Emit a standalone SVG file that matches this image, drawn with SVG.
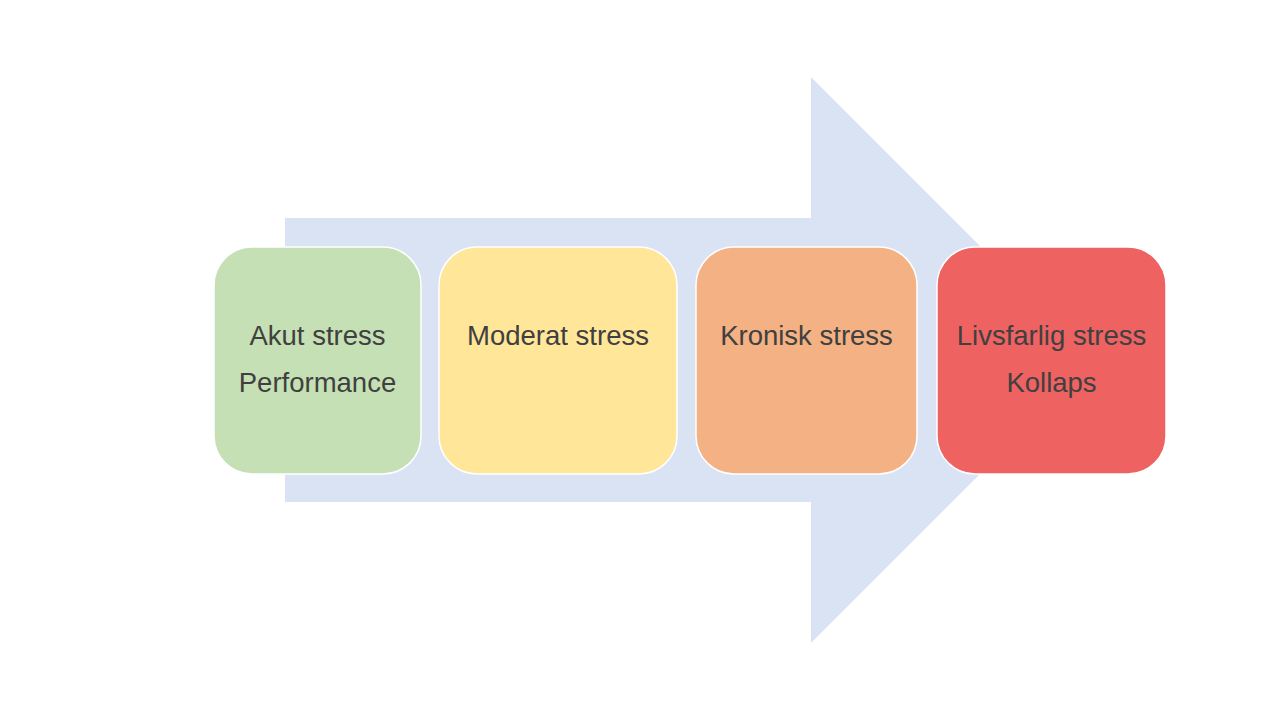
<svg xmlns="http://www.w3.org/2000/svg" width="1280" height="720" viewBox="0 0 1280 720">
<style>
.box{stroke:#ffffff;stroke-width:1.5}
.t{font-family:"Liberation Sans",Arial,sans-serif;font-size:27.5px;fill:#404040;text-anchor:middle}
</style>
<rect width="1280" height="720" fill="#ffffff"/>
<g id="arrow">
<path d="M285,218 H811 V77 L1094,360 L811,643 V502 H285 Z" fill="#DAE3F3"/>
</g>
<g id="akut">
<rect class="box" x="214" y="247" width="207" height="227" rx="38" fill="#C5E0B4"/>
<text class="t" x="317.5" y="345">Akut stress</text>
<text class="t" x="317.5" y="392">Performance</text>
</g>
<g id="moderat">
<rect class="box" x="439" y="247" width="238" height="227" rx="38" fill="#FFE699"/>
<text class="t" x="558" y="345">Moderat stress</text>
</g>
<g id="kronisk">
<rect class="box" x="696" y="247" width="221" height="227" rx="38" fill="#F4B183"/>
<text class="t" x="806.5" y="345">Kronisk stress</text>
</g>
<g id="livsfarlig">
<rect class="box" x="937" y="247" width="229" height="227" rx="38" fill="#EE6262"/>
<text class="t" x="1051.5" y="345">Livsfarlig stress</text>
<text class="t" x="1051.5" y="392">Kollaps</text>
</g>
</svg>
